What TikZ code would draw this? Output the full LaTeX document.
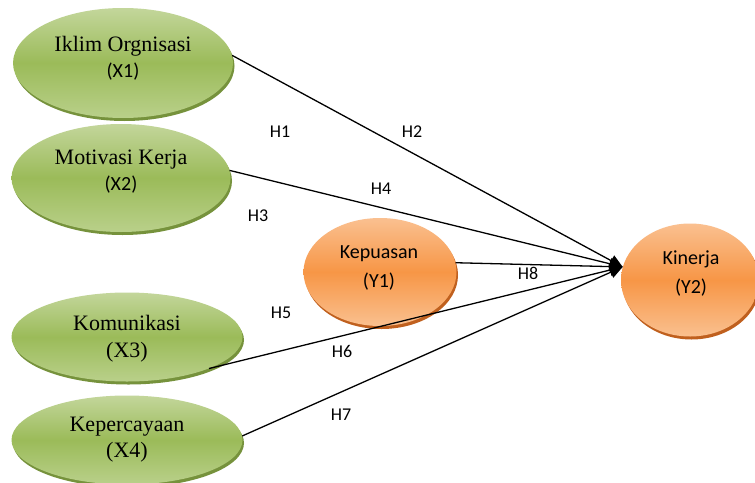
\documentclass[tikz,border=0pt]{standalone}
\usepackage{fontspec}
\setmainfont{Liberation Serif}
\newfontfamily\calib{Carlito}
\usetikzlibrary{shapes.geometric,shadows,arrows.meta}
\definecolor{gtop}{HTML}{C3D69B}
\definecolor{gmid}{HTML}{9BBB59}
\definecolor{gbot}{HTML}{B9D08A}
\definecolor{gsh}{HTML}{76923C}
\definecolor{otop}{HTML}{FAC090}
\definecolor{omid}{HTML}{F79646}
\definecolor{obot}{HTML}{FAC08F}
\definecolor{osh}{HTML}{C0601E}
\tikzset{
  ellgreen/.style={ellipse, inner sep=0pt, top color=gtop, bottom color=gbot, middle color=gmid,
    draw=none, drop shadow={shadow xshift=1.5pt, shadow yshift=-3pt, fill=gsh, opacity=1}},
  ellorange/.style={ellipse, inner sep=0pt, top color=otop, bottom color=obot, middle color=omid,
    draw=none, drop shadow={shadow xshift=1.5pt, shadow yshift=-3pt, fill=osh, opacity=1}},
  lbl/.style={align=center, inner sep=0pt, text=black},
  serif/.style={font=\fontsize{22}{26.5}\selectfont},
  mixed/.style={font=\fontsize{22}{26.5}\selectfont},
  sans/.style={font=\calib\fontsize{20}{29}\selectfont},
  hyp/.style={font=\calib\fontsize{18}{20}\selectfont, inner sep=0pt},
  conn/.style={line width=1.3pt, -{Triangle[length=13pt,width=12pt]}}
}
\newcommand{\sanspart}[1]{{\calib\fontsize{20}{26.5}\selectfont #1}}
\begin{document}
\begin{tikzpicture}[x=1pt,y=-1pt]
\clip (0,0) rectangle (755,482);
\fill[white] (0,0) rectangle (755,482);
% ellipses
\node[ellgreen, minimum width=220pt, minimum height=110pt] (x1) at (123,63) {};
\node[ellgreen, minimum width=219pt, minimum height=108pt] (x2) at (121,178) {};
\node[ellgreen, minimum width=231pt, minimum height=89pt] (x3) at (127,337) {};
\node[ellgreen, minimum width=231pt, minimum height=89pt] (x4) at (127,440) {};
\node[ellorange, minimum width=153pt, minimum height=108pt] (y1) at (380,272) {};
\node[ellorange, minimum width=138pt, minimum height=113pt] (y2) at (690,280) {};
% labels
\node[lbl, mixed] (x1t) at (123,58.5) {Iklim Orgnisasi\\\sanspart{(X1)}};
\node[lbl, mixed] (x2t) at (121,171.5) {Motivasi Kerja\\\sanspart{(X2)}};
\node[lbl, serif] (x3t) at (127,338.5) {Komunikasi\\(X3)};
\node[lbl, serif] (x4t) at (127,439.5) {Kepercayaan\\(X4)};
\node[lbl, sans] (y1t) at (379,267.5) {Kepuasan\\(Y1)};
\node[lbl, sans] (y2t) at (691,274) {Kinerja\\(Y2)};
% connectors
\coordinate (tip) at (y2.169);
\draw[conn] (x1.4) -- (tip);
\draw[conn] (x2.4) -- (tip);
\draw[conn] (y1.7) -- (tip);
\draw[conn] (x3.-21) -- (tip);
\draw[conn] (x4.2) -- (tip);
% hypothesis labels
\node[hyp] (h1) at (280,132) {H1};
\node[hyp] (h2) at (412,132) {H2};
\node[hyp] (h3) at (258,216) {H3};
\node[hyp] (h4) at (381,189) {H4};
\node[hyp] (h5) at (281,313) {H5};
\node[hyp] (h6) at (342,351) {H6};
\node[hyp] (h7) at (341,415) {H7};
\node[hyp] (h8) at (528,273) {H8};
\end{tikzpicture}
\end{document}
